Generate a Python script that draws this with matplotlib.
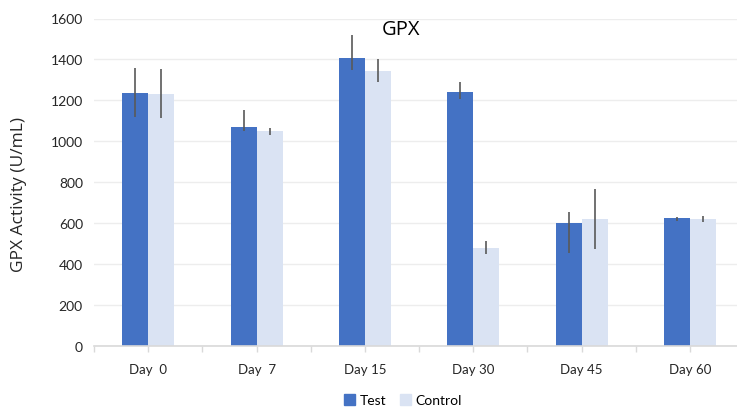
import matplotlib
matplotlib.use("Agg")
import matplotlib.pyplot as plt
import numpy as np
from matplotlib.patches import Patch

plt.rcParams['font.family'] = ['Lato', 'DejaVu Sans']

categories = ["Day  0", "Day  7", "Day 15", "Day 30", "Day 45", "Day 60"]
test_vals = [1236, 1068, 1407, 1240, 600, 625]
test_hi = [1357, 1153, 1517, 1289, 657, 630]
test_lo = [1117, 1052, 1350, 1207, 455, 613]
ctrl_vals = [1231, 1050, 1345, 481, 620, 620]
ctrl_hi = [1352, 1066, 1403, 512, 767, 633]
ctrl_lo = [1114, 1032, 1292, 450, 473, 608]

W, H = 737, 410
fig = plt.figure(figsize=(W / 100, H / 100), dpi=100)
ax = fig.add_axes([94 / W, (H - 347) / H, 650 / W, (347 - 19.5) / H])

x = np.arange(len(categories))
bw = 0.24
err_t = [np.array(test_vals) - np.array(test_lo), np.array(test_hi) - np.array(test_vals)]
err_c = [np.array(ctrl_vals) - np.array(ctrl_lo), np.array(ctrl_hi) - np.array(ctrl_vals)]

ax.bar(x - bw / 2, test_vals, bw, color="#4472C4", zorder=2, label="Test")
ax.bar(x + bw / 2, ctrl_vals, bw, color="#DAE3F3", zorder=2, label="Control")
ax.errorbar(x - bw / 2, test_vals, yerr=err_t, fmt="none", ecolor="#595959",
            elinewidth=1.2, capsize=0, zorder=3)
ax.errorbar(x + bw / 2, ctrl_vals, yerr=err_c, fmt="none", ecolor="#595959",
            elinewidth=1.2, capsize=0, zorder=3)

ax.set_xlim(-0.5, len(categories) - 0.5)
ax.set_ylim(0, 1600)
ax.set_yticks(np.arange(0, 1601, 200))
ax.yaxis.grid(True, color="#EDEDED", linewidth=1, zorder=0)
ax.set_axisbelow(True)
for s in ["top", "right", "left"]:
    ax.spines[s].set_visible(False)
ax.spines["bottom"].set_color("#D9D9D9")
ax.spines["bottom"].set_linewidth(1.2)
ax.tick_params(axis="y", length=0, labelsize=10, colors="#262626", pad=8)
ax.set_xticks(x)
ax.set_xticklabels(categories)
ax.set_xticks(np.arange(-0.5, len(categories), 1.0), minor=True)
ax.tick_params(axis="x", which="both", length=4, color="#D9D9D9", width=1,
               labelsize=9.5, labelcolor="#262626", pad=8)

fig.text(19 / W, 1 - 195 / H, "GPX Activity (U/mL)", rotation=90, ha="center",
         va="center", fontsize=12.5, color="#262626",
         family=["Open Sans", "DejaVu Sans"])
fig.text(401 / W, 1 - 30 / H, "GPX", ha="center", va="center", fontsize=14.5,
         color="#000000", family=["Open Sans", "DejaVu Sans"])

handles = [Patch(color="#4472C4", label="Test"), Patch(color="#DAE3F3", label="Control")]
fig.legend(handles=handles, loc="center", bbox_to_anchor=(403 / W, 1 - 401 / H),
           ncol=2, frameon=False, fontsize=10, handlelength=0.8, handleheight=0.8,
           handletextpad=0.3, columnspacing=1.0)

fig.savefig("out.png", dpi=100)
